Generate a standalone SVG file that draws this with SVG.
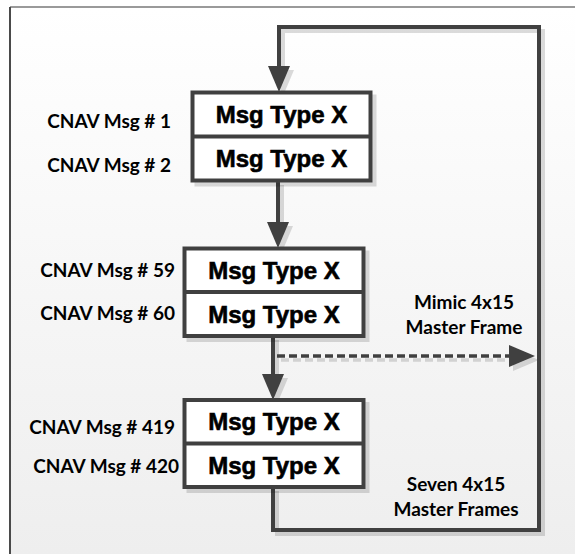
<svg xmlns="http://www.w3.org/2000/svg" width="575" height="554" viewBox="0 0 575 554">
  <defs>
    <linearGradient id="bg" x1="0" y1="0" x2="0" y2="1">
      <stop offset="0" stop-color="#ffffff"/>
      <stop offset="1" stop-color="#eeeeee"/>
    </linearGradient>
    <filter id="sh" x="-10%" y="-10%" width="130%" height="130%">
      <feDropShadow dx="4" dy="4" stdDeviation="0.6" flood-color="#000000" flood-opacity="0.14"/>
    </filter>
    <marker id="ah" markerUnits="userSpaceOnUse" markerWidth="27" markerHeight="22" refX="14" refY="11" orient="auto" overflow="visible">
      <path d="M0,0 L26,11 L0,22 Z" fill="#404040"/>
    </marker>
  </defs>
  <style>
    .box { fill: #ffffff; stroke: #404040; stroke-width: 4; }
    .div { stroke: #404040; stroke-width: 4; }
    .line { fill: none; stroke: #404040; stroke-width: 4; }
    .dash { fill: none; stroke: #404040; stroke-width: 3.5; stroke-dasharray: 8 4; }
    .mt { font-family: "Liberation Sans", Arial, sans-serif; font-weight: bold; font-size: 24px; fill: #000; stroke: #000; stroke-width: 0.6; text-anchor: middle; }
    .lbl { font-family: Lato, "Liberation Sans", sans-serif; font-weight: bold; font-size: 19px; fill: #000; text-anchor: end; }
    .note { font-family: Lato, "Liberation Sans", sans-serif; font-weight: bold; font-size: 19px; fill: #000; text-anchor: middle; }
  </style>

  <!-- frame -->
  <rect x="10" y="7" width="565" height="547" fill="url(#bg)"/>
  <line x1="10" y1="7" x2="575" y2="7" stroke="#9a9a9a" stroke-width="2"/>
  <line x1="10" y1="7" x2="10" y2="554" stroke="#4a4a4a" stroke-width="2"/>

  <g id="connectors" filter="url(#sh)">
    <polyline class="line" points="273,487 273,530 539,530 539,27 279,27 279,80" marker-end="url(#ah)"/>
    <line class="line" x1="278" y1="181" x2="278" y2="236" marker-end="url(#ah)"/>
    <line class="line" x1="273" y1="336" x2="273" y2="388" marker-end="url(#ah)"/>
    <line class="dash" x1="277" y1="356" x2="523" y2="356" marker-end="url(#ah)"/>
  </g>

  <g id="box1" filter="url(#sh)">
    <rect class="box" x="192.5" y="92.5" width="178" height="88"/>
    <line class="div" x1="192.5" y1="136.5" x2="370.5" y2="136.5"/>
  </g>
  <g id="box1-text">
    <text class="mt" x="281.5" y="123">Msg Type X</text>
    <text class="mt" x="281.5" y="167">Msg Type X</text>
    <text class="lbl" x="171" y="127.5">CNAV Msg # 1</text>
    <text class="lbl" x="171" y="171.5">CNAV Msg # 2</text>
  </g>

  <g id="box2" filter="url(#sh)">
    <rect class="box" x="184.5" y="248.5" width="179" height="87.5"/>
    <line class="div" x1="184.5" y1="292" x2="363.5" y2="292"/>
  </g>
  <g id="box2-text">
    <text class="mt" x="274" y="279">Msg Type X</text>
    <text class="mt" x="274" y="322.5">Msg Type X</text>
    <text class="lbl" x="175" y="277">CNAV Msg # 59</text>
    <text class="lbl" x="175" y="319.5">CNAV Msg # 60</text>
  </g>

  <g id="box3" filter="url(#sh)">
    <rect class="box" x="184.5" y="400" width="179" height="87"/>
    <line class="div" x1="184.5" y1="443.5" x2="363.5" y2="443.5"/>
  </g>
  <g id="box3-text">
    <text class="mt" x="274" y="430">Msg Type X</text>
    <text class="mt" x="274" y="473.5">Msg Type X</text>
    <text class="lbl" x="175" y="433.5">CNAV Msg # 419</text>
    <text class="lbl" x="179" y="473">CNAV Msg # 420</text>
  </g>

  <g id="note-mimic">
    <text class="note" x="464" y="309">Mimic 4x15</text>
    <text class="note" x="464" y="334">Master Frame</text>
  </g>
  <g id="note-seven">
    <text class="note" x="456" y="491">Seven 4x15</text>
    <text class="note" x="456" y="516">Master Frames</text>
  </g>
</svg>
